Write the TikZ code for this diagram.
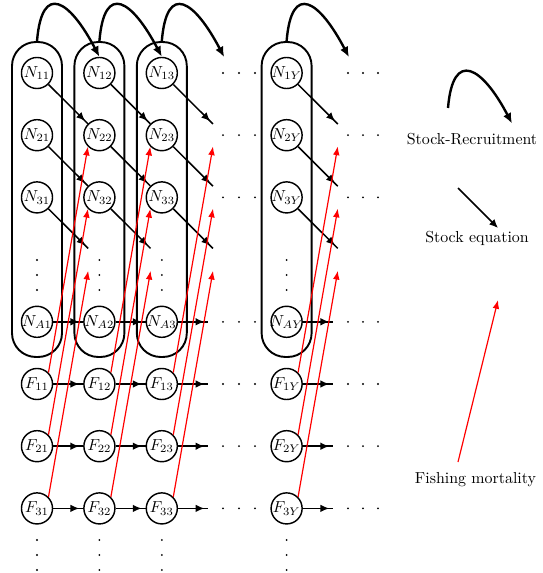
\documentclass[tikz,border=0pt]{standalone}
\usetikzlibrary{arrows.meta,decorations.markings}
\newcommand\zbox[1]{\makebox[0pt]{#1}}
\begin{document}
\begin{tikzpicture}[x=0.628pt,y=-0.628pt,
  st/.style={circle, draw, line width=0.9pt, minimum size=19.5pt, inner sep=0pt},
  ghost/.style={circle, minimum size=19.5pt, inner sep=0pt},
  colbox/.style={draw, line width=1.2pt, rounded corners=15pt, minimum width=31.4pt, minimum height=197.8pt, inner sep=0pt},
  blk/.style={line width=0.95pt, decoration={markings, mark=at position -2.5pt with {\arrow{Latex[length=5.5pt,width=4.8pt]}}}, postaction={decorate}},
  srarr/.style={line width=1.5pt, -{Latex[length=6.5pt,width=5.5pt]}},
  redarr/.style={red, line width=0.75pt, -{Latex[length=5.5pt,width=4.2pt]}},
  legarr/.style={line width=0.95pt, -{Latex[length=5.5pt,width=4.8pt]}},
  lbl/.style={inner sep=1pt}]
\useasboundingbox (0,0) rectangle (542,573);
% column boxes
\foreach \c/\x in {1/37,2/99.4,3/161.8,Y/286.6}{
  \node[colbox] (R\c) at (\x,199.5) {};
}
% nodes
\foreach \c/\x in {1/37,2/99.4,3/161.8,Y/286.6}{
  \node[st] (N1\c) at (\x,73) {\zbox{$N_{1\c}$}};
  \node[st] (N2\c) at (\x,135.2) {\zbox{$N_{2\c}$}};
  \node[st] (N3\c) at (\x,197.4) {\zbox{$N_{3\c}$}};
  \node[st] (NA\c) at (\x,321.8) {\zbox{$N_{A\c}$}};
  \node[st] (F1\c) at (\x,384) {\zbox{$F_{1\c}$}};
  \node[st] (F2\c) at (\x,446.2) {\zbox{$F_{2\c}$}};
  \node[st] (F3\c) at (\x,508.4) {\zbox{$F_{3\c}$}};
}
% invisible targets
\foreach \c/\x in {4/224.2,6/349}{
  \node[ghost] (N1\c) at (\x,73) {};
  \node[ghost] (N2\c) at (\x,135.2) {};
  \node[ghost] (N3\c) at (\x,197.4) {};
  \node[ghost] (N4\c) at (\x,259.6) {};
  \node[ghost] (NA\c) at (\x,321.8) {};
  \node[ghost] (F1\c) at (\x,384) {};
  \node[ghost] (F2\c) at (\x,446.2) {};
  \node[ghost] (F3\c) at (\x,508.4) {};
}
\foreach \c/\x in {2/99.4,3/161.8}{
  \node[ghost] (N4\c) at (\x,259.6) {};
}
% dots
\foreach \x in {37,99.4,161.8,286.6}
  \foreach \y in {260,275,290,540,555,570}
    \fill (\x,\y) circle (0.65pt);
\foreach \y in {73,135.2,197.4,321.8,384,446.2,508.4}
  \foreach \x in {223,239,255,348,363,378}
    \fill (\x,\y) circle (0.65pt);
% stock equation arrows
\foreach \c/\n in {1/2,2/3,3/4,Y/6}{
  \draw[blk] (N1\c) -- (N2\n);
  \draw[blk] (N2\c) -- (N3\n);
  \draw[blk] (N3\c) -- (N4\n);
  \draw[blk] (NA\c) -- (NA\n);
  \draw[blk] (F1\c) -- (F1\n);
  \draw[blk] (F2\c) -- (F2\n);
  \draw[blk] (F3\c) -- (F3\n);
  \draw[srarr] (R\c.north) .. controls +(5,-60) and +(-29.4,-56) .. (N1\n.north);
}
% fishing mortality
\foreach \c/\n in {1/2,2/3,3/4,Y/6}{
  \draw[redarr] (F1\c.north east) -- (N2\n.south west);
  \draw[redarr] (F2\c.north east) -- (N3\n.south west);
  \draw[redarr] (F3\c.north east) -- (N4\n.south west);
}
% legend
\coordinate (ls1) at (448,108);
\coordinate (ls2) at (512,123.5);
\draw[srarr] (ls1) .. controls +(5,-60) and +(-29.4,-56) .. (ls2);
\node[lbl] (tsr) at (472,139) {Stock-Recruitment};
\coordinate (le1) at (458,188);
\coordinate (le2) at (498,228);
\draw[legarr] (le1) -- (le2);
\node[lbl] (tse) at (477,238) {Stock equation};
\coordinate (lf1) at (458,462);
\coordinate (lf2) at (498,300);
\draw[redarr] (lf1) -- (lf2);
\node[lbl] (tfm) at (475.5,480) {Fishing mortality};
\end{tikzpicture}
\end{document}
